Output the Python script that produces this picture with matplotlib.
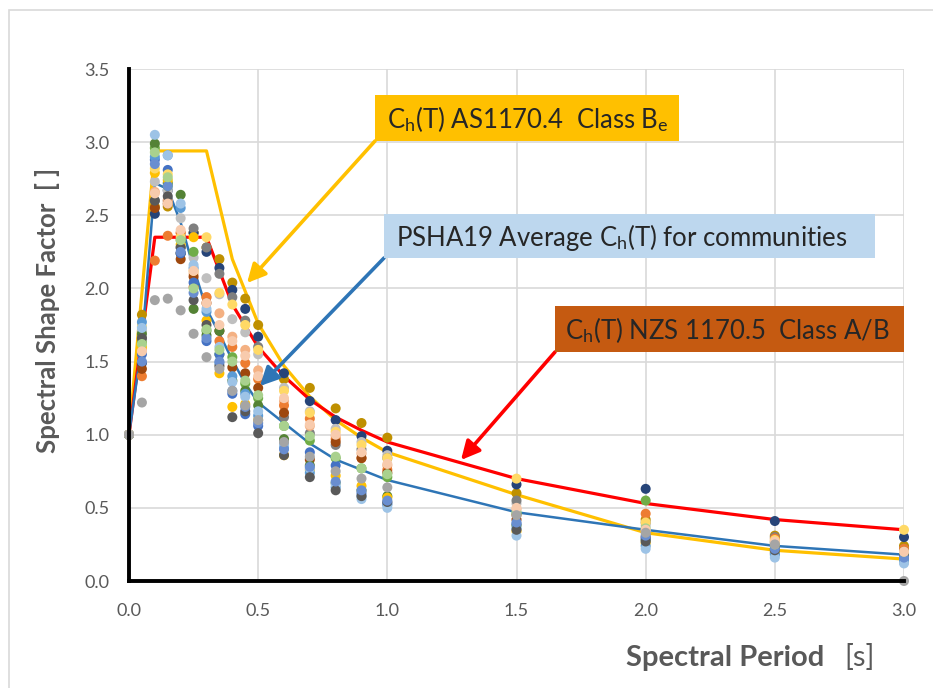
import matplotlib
matplotlib.use("Agg")
import matplotlib.pyplot as plt
from matplotlib.patches import Rectangle

plt.rcParams['font.family'] = ['Lato', 'DejaVu Sans']
plt.rcParams['mathtext.fontset'] = 'custom'
plt.rcParams['mathtext.rm'] = 'Lato'
plt.rcParams['mathtext.it'] = 'Lato:italic'
plt.rcParams['mathtext.bf'] = 'Lato:bold'

# ---------------- data ----------------
periods = [0, 0.05, 0.1, 0.15, 0.2, 0.25, 0.3, 0.35, 0.4, 0.45, 0.5,
           0.6, 0.7, 0.8, 0.9, 1.0, 1.5, 2.0, 2.5, 3.0]

community_colors = [
    "#BF9000", "#264478", "#BFBFBF", "#7F7F7F", "#F4B183", "#ED7D31",
    "#9E480E", "#70AD47", "#548235", "#4472C4", "#FFC000", "#FFD966",
    "#5B9BD5", "#9DC3E6", "#595959", "#698ED0", "#A9D18E", "#F8CBAD",
    "#A5A5A5",
]

community_ch = [
    [1.0, 1.82, 2.56, 2.56, 2.24, 2.38, 2.28, 2.20, 2.04, 1.93, 1.75, 1.38, 1.32, 1.18, 1.08, 0.98, 0.60, 0.42, 0.31, 0.24],
    [1.0, 1.49, 2.51, 2.67, 2.24, 2.38, 2.25, 2.14, 1.99, 1.86, 1.67, 1.42, 1.23, 1.10, 0.99, 0.89, 0.66, 0.63, 0.41, 0.30],
    [1.0, 1.71, 2.73, 2.67, 2.48, 2.21, 2.07, 1.96, 1.79, 1.70, 1.55, 1.32, 1.16, 1.04, 0.95, 0.86, 0.53, 0.38, 0.26, 0.19],
    [1.0, 1.66, 2.60, 2.60, 2.28, 2.41, 2.28, 2.10, 1.94, 1.78, 1.60, 1.12, 1.01, 0.93, 0.90, 0.84, 0.55, 0.40, 0.30, 0.22],
    [1.0, 1.58, 2.66, 2.60, 2.38, 2.10, 1.94, 1.83, 1.67, 1.58, 1.44, 1.23, 1.06, 0.99, 0.87, 0.79, 0.49, 0.34, 0.26, 0.16],
    [1.0, 1.40, 2.19, 2.36, 2.38, 2.01, 1.94, 1.64, 1.60, 1.49, 1.38, 1.20, 1.11, 0.97, 0.84, 0.76, 0.45, 0.46, 0.29, 0.22],
    [1.0, 1.45, 2.55, 2.58, 2.20, 2.08, 1.90, 1.71, 1.46, 1.42, 1.32, 1.15, 0.83, 0.95, 0.84, 0.74, 0.42, 0.30, 0.24, 0.20],
    [1.0, 1.63, 2.96, 2.70, 2.33, 2.25, 1.71, 1.55, 1.53, 1.35, 1.25, 1.06, 0.96, 0.84, 0.77, 0.71, 0.46, 0.55, 0.27, 0.18],
    [1.0, 1.69, 2.99, 2.72, 2.64, 1.86, 1.68, 1.71, 1.37, 1.30, 1.20, 0.97, 0.79, 0.67, 0.62, 0.58, 0.38, 0.28, 0.22, 0.15],
    [1.0, 1.55, 2.88, 2.81, 2.24, 2.04, 1.64, 1.55, 1.28, 1.14, 1.06, 0.93, 0.88, 0.79, 0.60, 0.53, 0.39, 0.29, 0.19, 0.14],
    [1.0, 1.60, 2.79, 2.74, 2.30, 2.35, 1.78, 1.42, 1.19, 1.21, 1.10, 0.86, 0.76, 0.72, 0.65, 0.57, 0.34, 0.26, 0.20, 0.13],
    [1.0, 1.74, 2.82, 2.78, 2.35, 2.12, 2.35, 1.97, 1.89, 1.75, 1.58, 1.30, 1.15, 1.02, 0.93, 0.84, 0.70, 0.40, 0.28, 0.35],
    [1.0, 1.77, 2.90, 2.91, 2.55, 2.14, 1.84, 1.49, 1.40, 1.28, 1.13, 0.91, 0.74, 0.64, 0.58, 0.52, 0.36, 0.24, 0.18, 0.14],
    [1.0, 1.73, 3.05, 2.91, 2.58, 2.16, 1.86, 1.60, 1.36, 1.26, 1.16, 0.93, 0.77, 0.66, 0.56, 0.50, 0.31, 0.22, 0.16, 0.12],
    [1.0, 1.66, 2.60, 2.63, 2.28, 1.92, 1.75, 1.47, 1.12, 1.16, 1.01, 0.86, 0.71, 0.62, 0.58, 0.54, 0.35, 0.27, 0.21, 0.18],
    [1.0, 1.50, 2.85, 2.70, 2.25, 1.97, 1.66, 1.50, 1.30, 1.19, 1.08, 0.90, 0.78, 0.68, 0.62, 0.55, 0.40, 0.31, 0.22, 0.16],
    [1.0, 1.62, 2.93, 2.76, 2.33, 2.00, 1.72, 1.58, 1.50, 1.37, 1.27, 1.06, 0.99, 0.85, 0.77, 0.73, 0.47, 0.36, 0.25, 0.20],
    [1.0, 1.57, 2.65, 2.58, 2.40, 2.12, 1.90, 1.75, 1.64, 1.54, 1.40, 1.25, 1.07, 1.00, 0.88, 0.80, 0.50, 0.35, 0.27, 0.20],
    [1.0, 1.22, 1.92, 1.93, 1.85, 1.69, 1.53, 1.45, 1.30, 1.20, 1.10, 0.95, 0.85, 0.75, 0.70, 0.64, 0.45, 0.33, 0.25, 0.0],
]

code_periods = [0, 0.1, 0.2, 0.3, 0.4, 0.5, 0.6, 0.7, 0.8, 0.9, 1.0, 1.5, 2.0, 2.5, 3.0]
as1170_4_be = [1.0, 2.94, 2.94, 2.94, 2.20, 1.76, 1.47, 1.26, 1.10, 0.98, 0.88, 0.59, 0.33, 0.21, 0.15]
nzs1170_5_ab = [1.0, 2.35, 2.35, 2.35, 1.89, 1.60, 1.40, 1.24, 1.12, 1.03, 0.95, 0.70, 0.53, 0.42, 0.35]
psha19_avg = [1.0, 1.62, 2.72, 2.68, 2.45, 2.14, 1.86, 1.69, 1.51, 1.35, 1.22,
              1.08, 0.94, 0.83, 0.76, 0.69, 0.47, 0.35, 0.24, 0.18]

x_ticks = [0.0, 0.5, 1.0, 1.5, 2.0, 2.5, 3.0]
y_ticks = [0.0, 0.5, 1.0, 1.5, 2.0, 2.5, 3.0, 3.5]

# ---------------- figure ----------------
W, H = 933, 688
fig = plt.figure(figsize=(W / 100, H / 100), dpi=100)
fig.patch.set_facecolor("white")

def fx(px):
    return px / W

def fy(py):
    return 1 - py / H

# outer chart border
fig.patches.append(Rectangle((fx(9), fy(H + 5)), 1.2, fy(10) - fy(H + 5),
                             transform=fig.transFigure, fill=False,
                             edgecolor="#D9D9D9", lw=1.2))

ax = fig.add_axes([fx(129), fy(581), fx(904) - fx(129), fy(69) - fy(581)])
ax.set_xlim(0, 3.0)
ax.set_ylim(0, 3.5)
ax.set_xticks(x_ticks)
ax.set_yticks(y_ticks)
ax.set_xticklabels([f"{v:.1f}" for v in x_ticks])
ax.set_yticklabels([f"{v:.1f}" for v in y_ticks])
ax.grid(True, color="#D9D9D9", lw=1.2)
ax.set_axisbelow(True)
for s in ["top", "right"]:
    ax.spines[s].set_visible(False)
for s in ["left", "bottom"]:
    ax.spines[s].set_color("black")
    ax.spines[s].set_linewidth(2.8)
    ax.spines[s].set_zorder(6)
ax.tick_params(axis="both", length=0, labelcolor="#595959", labelsize=13)
ax.tick_params(axis="x", pad=16)
ax.tick_params(axis="y", pad=14)

# code curves
ax.plot(code_periods, as1170_4_be, color="#FFC000", lw=2.3, zorder=2)
ax.plot(code_periods, nzs1170_5_ab, color="#FF0000", lw=2.3, zorder=2)
ax.plot(periods, psha19_avg, color="#2E75B6", lw=1.8, zorder=2)

# community points
for col, vals in zip(community_colors, community_ch):
    ax.scatter(periods, vals, s=52, color=col, edgecolors="none",
               zorder=3, clip_on=False)

# annotation boxes
def box(x0, y0, x1, y1, color):
    fig.patches.append(Rectangle((fx(x0), fy(y1)), fx(x1) - fx(x0), fy(y0) - fy(y1),
                                 transform=fig.transFigure, facecolor=color,
                                 edgecolor="none", zorder=10))

box(375, 95, 679, 141, "#FFC000")
box(384, 214, 875, 258, "#BDD7EE")
box(555, 306, 904, 352, "#C55A11")

fig.text(fx(387), fy(119), r"C$_\mathrm{h}$(T) AS1170.4  Class B$_\mathrm{e}$",
         fontsize=18.5, color="#262626", va="center", ha="left", zorder=11)
fig.text(fx(396), fy(237), r"PSHA19 Average C$_\mathrm{h}$(T) for communities",
         fontsize=18.5, color="#262626", va="center", ha="left", zorder=11)
fig.text(fx(565), fy(330), r"C$_\mathrm{h}$(T) NZS 1170.5  Class A/B",
         fontsize=18.5, color="#262626", va="center", ha="left", zorder=11)

# arrows (tail at box corner, tip at the curve)
def px2data(px, py):
    return ((px - 129) / (904 - 129) * 3.0, (581 - py) / (581 - 69) * 3.5)

def arrow(tail, tip, color):
    ax.annotate("", xy=px2data(*tip), xytext=px2data(*tail),
                xycoords="data", textcoords="data",
                arrowprops=dict(arrowstyle="-|>", color=color, lw=2.6,
                                mutation_scale=28, shrinkA=0, shrinkB=0),
                zorder=8, annotation_clip=False)

arrow((375, 141), (247, 283), "#FFC000")
arrow((384, 258), (260, 386), "#2E75B6")
arrow((555, 352), (461, 460), "#FF0000")

# axis titles
fig.text(fx(48), fy(310), "Spectral Shape Factor  [ ]", rotation=90,
         fontsize=18.5, fontweight="bold", color="#595959",
         ha="center", va="center")
fig.text(fx(626), fy(658), "Spectral Period", fontsize=21,
         fontweight="bold", color="#595959", ha="left", va="center")
fig.text(fx(875), fy(658), "[s]", fontsize=21, color="#595959",
         ha="right", va="center")

fig.savefig("out.png", dpi=100)
